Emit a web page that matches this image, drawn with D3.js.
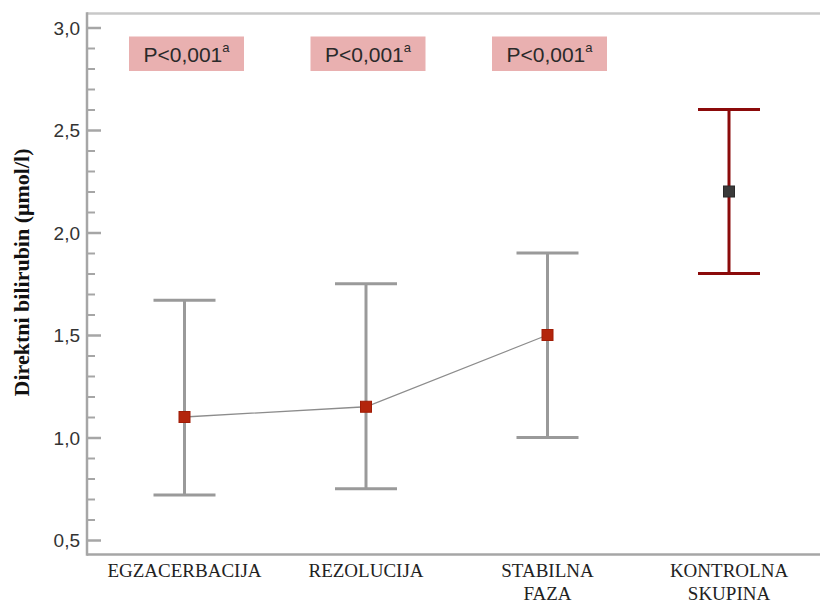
<!DOCTYPE html>
<html>
<head>
<meta charset="utf-8">
<script src="https://cdn.jsdelivr.net/npm/d3@7"></script>
<style>
  html, body { margin: 0; padding: 0; background: #fff; }
  svg { display: block; }
</style>
</head>
<body>
<svg id="chart" width="820" height="603"></svg>
<script>
const categories = ["EGZACERBACIJA", "REZOLUCIJA", "STABILNA\nFAZA", "KONTROLNA\nSKUPINA"];
const means = [1.10, 1.15, 1.50, 2.20];
const lowerCI = [0.72, 0.75, 1.00, 1.80];
const upperCI = [1.67, 1.75, 1.90, 2.60];
const isControl = [false, false, false, true];
const pLabels = ["P<0,001", "P<0,001", "P<0,001"];
const pSup = ["a", "a", "a"];
const majorTicks = [0.5, 1.0, 1.5, 2.0, 2.5, 3.0];
const minorTicks = d3.range(5, 31).map(d => d / 10);
const yTitle = "Direktni bilirubin (μmol/l)";

(function () {
const svg = d3.select("#chart");
const mLeft = 87, mTop = 13.5, mBottom = 554.5, mRight = 820;

const y = d3.scaleLinear().domain([0.5, 3.0]).range([540, 27.5]);
const x = d3.scalePoint().domain(categories).range([184.5, 729]);

// frame lines
svg.append("line").attr("x1", mLeft).attr("x2", mRight).attr("y1", mTop).attr("y2", mTop)
  .attr("stroke", "#c8c8c8").attr("stroke-width", 2.5);
svg.append("line").attr("x1", mLeft).attr("x2", mRight).attr("y1", mBottom).attr("y2", mBottom)
  .attr("stroke", "#a6a6a6").attr("stroke-width", 2.5);

// minor ticks
const minorAxis = d3.axisLeft(y).tickValues(minorTicks.filter(v => !majorTicks.some(m => Math.abs(m - v) < 1e-9)))
  .tickSize(-8).tickFormat("");
const gMinor = svg.append("g").attr("transform", `translate(${mLeft},0)`).call(minorAxis);
gMinor.select(".domain").remove();
gMinor.selectAll(".tick line").attr("stroke", "#a6a6a6").attr("stroke-width", 2);

// major ticks
const majorAxis = d3.axisLeft(y).tickValues(majorTicks).tickSize(-14).tickPadding(7)
  .tickFormat(d => d3.format(".1f")(d).replace(".", ","));
const gMajor = svg.append("g").attr("transform", `translate(${mLeft},0)`).call(majorAxis);
gMajor.select(".domain").remove();
gMajor.selectAll(".tick line").attr("stroke", "#a6a6a6").attr("stroke-width", 2.5);
gMajor.selectAll(".tick text").attr("font-family", "Liberation Sans, Arial, sans-serif")
  .attr("font-size", 19).attr("fill", "#333").attr("dy", "0.36em");

// left axis line
svg.append("line").attr("x1", mLeft).attr("x2", mLeft).attr("y1", mTop - 1.2).attr("y2", mBottom + 1.2)
  .attr("stroke", "#a6a6a6").attr("stroke-width", 2.5);

// y title
svg.append("text")
  .attr("transform", `translate(29,${272.5}) rotate(-90)`)
  .attr("text-anchor", "middle")
  .attr("font-family", "Liberation Serif, 'Times New Roman', serif")
  .attr("font-weight", "bold")
  .attr("font-size", 22)
  .attr("fill", "#111")
  .text(yTitle);

// category labels
const catG = svg.append("g");
categories.forEach(c => {
  const t = catG.append("text")
    .attr("x", x(c)).attr("y", 577)
    .attr("text-anchor", "middle")
    .attr("font-family", "Liberation Serif, 'Times New Roman', serif")
    .attr("font-size", 19)
    .attr("fill", "#222");
  c.split("\n").forEach((line, i) => {
    t.append("tspan").attr("x", x(c)).attr("dy", i === 0 ? 0 : 23).text(line);
  });
});

// P-value boxes
pLabels.forEach((p, i) => {
  const cx = x(categories[i]) + 2;
  const bw = 115, bh = 34.5;
  svg.append("rect").attr("x", cx - bw / 2).attr("y", 36.5).attr("width", bw).attr("height", bh)
    .attr("fill", "#e9b0b0");
  const t = svg.append("text").attr("x", cx).attr("y", 62).attr("text-anchor", "middle")
    .attr("font-family", "Liberation Sans, Arial, sans-serif").attr("font-size", 21).attr("fill", "#2a2a2a");
  t.append("tspan").text(p);
  t.append("tspan").attr("font-size", 13).attr("dy", -10).text(pSup[i]);
});

// connecting line (non-control groups)
const lineIdx = categories.map((c, i) => i).filter(i => !isControl[i]);
svg.append("path")
  .datum(lineIdx)
  .attr("d", d3.line().x(i => x(categories[i])).y(i => y(means[i])))
  .attr("fill", "none").attr("stroke", "#8c8c8c").attr("stroke-width", 1.3);

// error bars
const capW = 62;
categories.forEach((c, i) => {
  const col = isControl[i] ? "#8b0a0a" : "#9a9a9a";
  const cx = x(c);
  const g = svg.append("g").attr("stroke", col).attr("stroke-width", 3);
  g.append("line").attr("x1", cx).attr("x2", cx).attr("y1", y(upperCI[i])).attr("y2", y(lowerCI[i]));
  g.append("line").attr("x1", cx - capW / 2).attr("x2", cx + capW / 2).attr("y1", y(upperCI[i])).attr("y2", y(upperCI[i]));
  g.append("line").attr("x1", cx - capW / 2).attr("x2", cx + capW / 2).attr("y1", y(lowerCI[i])).attr("y2", y(lowerCI[i]));
});

// mean markers
const ms = 11;
categories.forEach((c, i) => {
  svg.append("rect")
    .attr("x", x(c) - ms / 2).attr("y", y(means[i]) - ms / 2)
    .attr("width", ms).attr("height", ms)
    .attr("fill", isControl[i] ? "#3a3a3a" : "#b3250c")
    .attr("stroke", isControl[i] ? "#2a2a2a" : "#a01c06")
    .attr("stroke-width", 1);
});
})();
</script>
</body>
</html>
